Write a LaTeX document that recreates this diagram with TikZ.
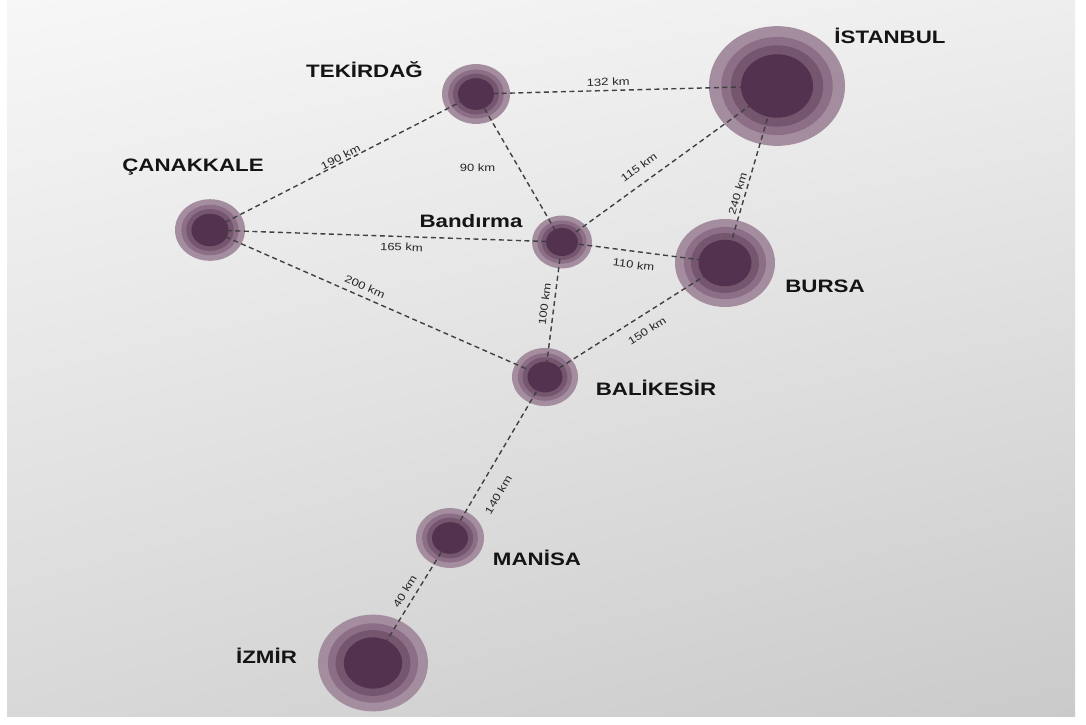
\documentclass[tikz,border=0pt]{standalone}
\usepackage{fontspec}
\setmainfont{Liberation Sans}
\newfontfamily\cityf{Liberation Sans}[FakeStretch=1.24]
\usetikzlibrary{shapes.geometric,shadings}
\pgfdeclarelayer{bg}
\pgfdeclarelayer{fg}
\pgfsetlayers{bg,main,fg}
\definecolor{ringa}{HTML}{A48D9F}
\definecolor{ringb}{HTML}{8C6E87}
\definecolor{ringc}{HTML}{74566F}
\definecolor{ringd}{HTML}{52324F}
\definecolor{roadc}{HTML}{404040}
\definecolor{bgul}{HTML}{F7F7F7}
\definecolor{bgur}{HTML}{EEEEEE}
\definecolor{bgll}{HTML}{D8D8D8}
\definecolor{bglr}{HTML}{CACACA}
\begin{document}
\begin{tikzpicture}[x=1pt,y=-1pt,
  road/.style={draw=roadc, line width=1.4pt, dash pattern=on 5pt off 3.5pt},
  dist/.style={font=\cityf\fontsize{10.5}{12}\selectfont, inner sep=1pt, text=black!85},
  cityname/.style={font=\cityf\bfseries\fontsize{18}{20}\selectfont, anchor=base, inner sep=0pt, text=black!92},
  core/.style={ellipse, fill=ringd, inner sep=0pt}]
\useasboundingbox (0,0) rectangle (1086,724);
\begin{pgfonlayer}{bg}
\fill[white] (0,0) rectangle (1086,724);
\shade[upper left=bgul, upper right=bgur, lower left=bgll, lower right=bglr]
  (7,0) rectangle (1075,716);
\foreach \x/\y/\r in {777/86/68, 476/94/34, 210/230/35, 562/242/30, 725/263/50, 545/377/33, 450/538/34, 373/663/55} {
  \fill[ringa] (\x,\y) ellipse [x radius={\r*1pt}, y radius={0.88*\r*1pt}];
  \fill[ringb] (\x,\y) ellipse [x radius={0.82*\r*1pt}, y radius={0.88*0.82*\r*1pt}];
  \fill[ringc] (\x,\y) ellipse [x radius={0.68*\r*1pt}, y radius={0.88*0.68*\r*1pt}];
}
\end{pgfonlayer}
\begin{pgfonlayer}{fg}
\node[core, minimum width=72pt, minimum height=63.4pt] (ist) at (777,86) {};
\node[core, minimum width=36pt, minimum height=31.7pt] (tek) at (476,94) {};
\node[core, minimum width=37.1pt, minimum height=32.6pt] (can) at (210,230) {};
\node[core, minimum width=31.8pt, minimum height=28pt] (ban) at (562,242) {};
\node[core, minimum width=53pt, minimum height=46.6pt] (bur) at (725,263) {};
\node[core, minimum width=35pt, minimum height=30.8pt] (bal) at (545,377) {};
\node[core, minimum width=36pt, minimum height=31.7pt] (man) at (450,538) {};
\node[core, minimum width=58.3pt, minimum height=51.3pt] (izm) at (373,663) {};
\end{pgfonlayer}
% roads
\draw[road] (can.center) -- node[dist, sloped, pos=0.5, above=0pt] {190 km} (tek.center);
\draw[road] (tek.center) -- node[dist, sloped, pos=0.44, above=3pt] {132 km} (ist.center);
\draw[road] (tek.center) -- node[dist, pos=0.5, left=22pt] {90 km} (ban.center);
\draw[road] (ban.center) -- node[dist, sloped, pos=0.4, above=10pt] {115 km} (ist.center);
\draw[road] (ist.center) -- node[dist, sloped, pos=0.62, above=2pt] {240 km} (bur.center);
\draw[road] (can.center) -- node[dist, sloped, pos=0.545, below=5pt] {165 km} (ban.center);
\draw[road] (ban.center) -- node[dist, sloped, pos=0.45, below=8pt] {110 km} (bur.center);
\draw[road] (can.center) -- node[dist, sloped, pos=0.45, above=5pt] {200 km} (bal.center);
\draw[road] (ban.center) -- node[dist, sloped, pos=0.47, above=4pt] {100 km} (bal.center);
\draw[road] (bal.center) -- node[dist, sloped, pos=0.52, below=10pt] {150 km} (bur.center);
\draw[road] (bal.center) -- node[dist, sloped, pos=0.67, below=14pt] {140 km} (man.center);
\draw[road] (man.center) -- node[dist, sloped, pos=0.47, above=5pt] {40 km} (izm.center);
% city names
\node[cityname] (istl) at (890,43) {İSTANBUL};
\node[cityname] (tekl) at (364.5,77) {TEKİRDAĞ};
\node[cityname] (canl) at (193,171) {ÇANAKKALE};
\node[cityname] (banl) at (471,227) {Bandırma};
\node[cityname] (burl) at (825,292) {BURSA};
\node[cityname] (ball) at (656,395) {BALİKESİR};
\node[cityname] (manl) at (537,565) {MANİSA};
\node[cityname] (izml) at (266.5,663) {İZMİR};
\end{tikzpicture}
\end{document}
